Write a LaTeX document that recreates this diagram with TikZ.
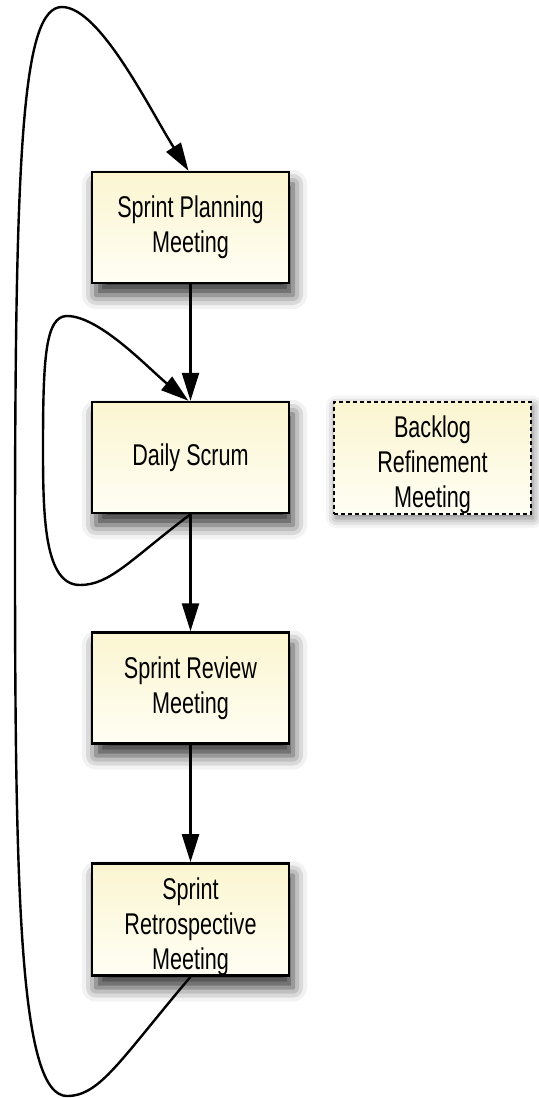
\documentclass[tikz,border=0pt]{standalone}
\usepackage{fontspec}
\setmainfont{Liberation Sans}[FakeStretch=0.72]
\usetikzlibrary{arrows.meta,shadows.blur}
\definecolor{boxtop}{RGB}{251,245,208}
\definecolor{boxbot}{RGB}{255,254,244}
\newcommand{\lowstrut}{\rule{0pt}{18pt}}
\tikzset{mtg/.style = {rectangle,draw,line width=1.2pt,minimum width=98.5pt,minimum height=55.5pt,
  inner sep=0pt,align=center,font=\fontsize{15}{17.5}\selectfont,
  top color=boxtop,bottom color=boxbot,
  blur shadow={shadow xshift=2pt,shadow yshift=-6pt,shadow blur radius=7pt,shadow opacity=80}}}
\tikzset{opt/.style = {mtg,dash pattern=on 2pt off 1.5pt,
  blur shadow={shadow xshift=1pt,shadow yshift=-2pt,shadow blur radius=5pt,shadow opacity=30}}}
\tikzset{flow/.style = {-{Triangle[length=14pt,width=8.5pt]},line width=1.2pt}}

\begin{document}
\begin{tikzpicture}[x=0.5pt,y=-0.5pt]
      \useasboundingbox (0,0) rectangle (538,1098);

      \node[mtg] (plan) at (190.5,227.5) {Sprint Planning\\Meeting};
      \node[mtg] (daily) at (190.5,457.5) {Daily Scrum};
      \node[mtg] (review) at (190.5,688) {Sprint Review\\Meeting};
      \node[mtg] (retro) at (190.5,919.5) {\lowstrut Sprint\\Retrospective\\Meeting};
      \node[opt] (backlog) at (432.5,458) {\lowstrut Backlog\\Refinement\\Meeting};

 \foreach \a/\b in {plan/daily,daily/review,review/retro}
   \draw[flow] (\a.south) -- (\b.north);

 % daily loop
 \draw[flow] (daily.south) .. controls (130,560) and (110,585) .. (80,585)
   .. controls (45,585) and (43,520) .. (43,450)
   .. controls (43,360) and (45,316) .. (67,316)
   .. controls (100,316) and (150,370) .. ([xshift=-1pt]daily.north);

 % sprint loop
 \draw[flow] (retro.south) .. controls (120,1060) and (100,1096) .. (67,1096)
   .. controls (20,1096) and (15,900) .. (15,550)
   .. controls (15,150) and (22,7) .. (62,7)
   .. controls (100,7) and (150,110) .. ([xshift=-1pt]plan.north);

    \end{tikzpicture}
\end{document}
